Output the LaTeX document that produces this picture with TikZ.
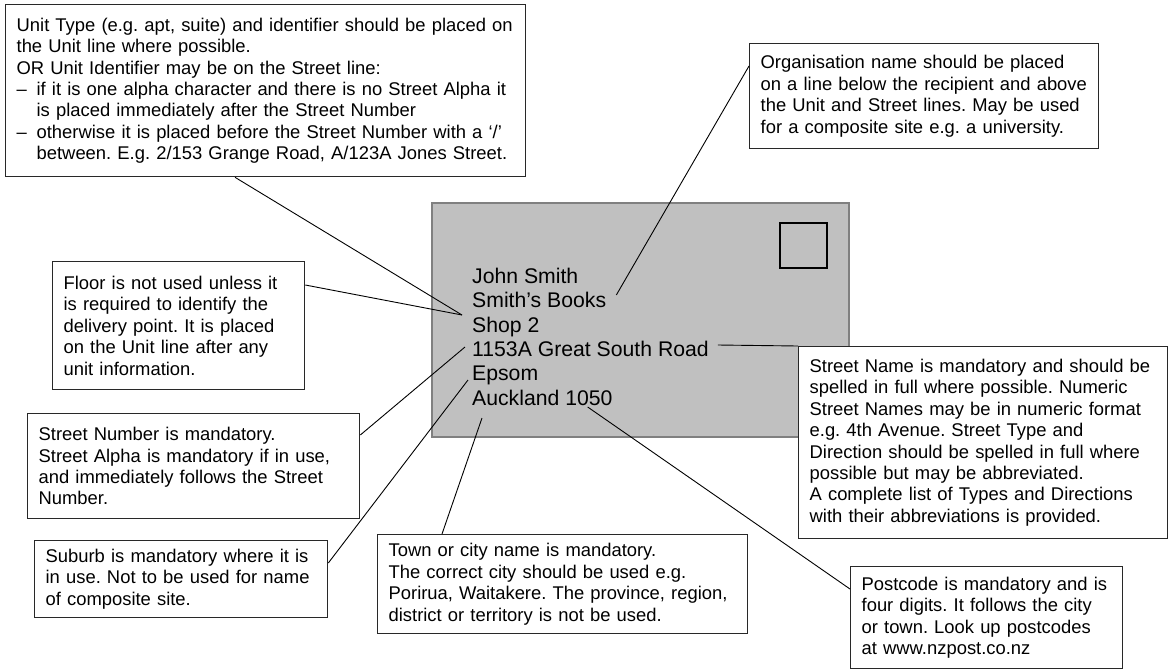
\documentclass[tikz,border=0pt]{standalone}
\usepackage{fontspec}
\setmainfont{Liberation Sans}
\frenchspacing
\definecolor{envback}{RGB}{192,192,192}
\definecolor{envline}{RGB}{128,128,128}
\definecolor{boxline}{RGB}{40,40,40}
\newcommand{\dashitem}{\makebox[20pt][l]{–}}

\begin{document}
\begin{tikzpicture}[x=1pt,y=-1pt,
  note/.style={draw=boxline,line width=1.3pt,fill=white,anchor=north west,align=left,
    inner xsep=11pt,inner ysep=3pt,font=\fontsize{18.4}{21.4}\selectfont},
  addr/.style={anchor=base west,inner sep=0pt,font=\fontsize{21.2}{24.4}\selectfont},
  leader/.style={draw=black,line width=0.9pt}]
\useasboundingbox (0,0) rectangle (1170,670);

\draw[fill=envback,draw=envline,line width=1.8pt] (432,203) rectangle (849,437);
\node[draw=black,line width=1.8pt,minimum width=47pt,minimum height=45pt,anchor=north west,inner sep=0pt] (stamp) at (779,222) {};

\node[addr] (recip) at (472,283) {John Smith};
\node[addr] (company) at (472,307) {Smith’s Books};
\node[addr] (shop) at (472,332) {Shop 2};
\node[addr] (street) at (472,356) {1153A Great South Road};
\node[addr] (suburbln) at (472,380) {Epsom};
\node[addr] (city) at (472,405) {Auckland 1050};

\node[note,text width=498pt,minimum height=172pt] (unit) at (5,4)
{\mbox{Unit Type (e.g. apt, suite) and identifier should be placed on}\\
the Unit line where possible.\\
OR Unit Identifier may be on the Street line:\\
\dashitem if it is one alpha character and there is no Street Alpha it\\
\hspace*{20pt}is placed immediately after the Street Number\\
\dashitem otherwise it is placed before the Street Number with a ‘/’\\
\hspace*{20pt}between. E.g. 2/153 Grange Road, A/123A Jones Street.};

\node[note,text width=327pt,minimum height=105pt] (org) at (749,43)
{Organisation name should be placed\\
\mbox{on a line below the recipient and above}\\
the Unit and Street lines. May be used\\
for a composite site e.g. a university.};

\node[note,text width=230pt,minimum height=128pt] (floor) at (52,261)
{Floor is not used unless it\\
is required to identify the\\
delivery point. It is placed\\
on the Unit line after any\\
unit information.};

\node[note,text width=310pt,minimum height=105pt] (stnum) at (27,413)
{Street Number is mandatory.\\
Street Alpha is mandatory if in use,\\
and immediately follows the Street\\
Number.};

\node[note,text width=271pt,minimum height=77pt] (suburb) at (34,540)
{Suburb is mandatory where it is\\
in use. Not to be used for name\\
of composite site.};

\node[note,text width=348pt,minimum height=99pt] (town) at (377,534)
{Town or city name is mandatory.\\
The correct city should be used e.g.\\
Porirua, Waitakere. The province, region,\\
district or territory is not be used.};

\node[note,text width=347pt,minimum height=192pt] (stname) at (798,346)
{Street Name is mandatory and should be\\
spelled in full where possible. Numeric\\
Street Names may be in numeric format\\
e.g. 4th Avenue. Street Type and\\
Direction should be spelled in full where\\
possible but may be abbreviated.\\
A complete list of Types and Directions\\
with their abbreviations is provided.};

\node[note,text width=250pt,minimum height=102pt] (pcode) at (850,566)
{Postcode is mandatory and is\\
four digits. It follows the city\\
or town. Look up postcodes\\
at www.nzpost.co.nz};

\draw[leader] ([xshift=230pt]unit.south west) -- ([xshift=-10pt,yshift=17pt]shop.base west);
\draw[leader] ([yshift=-24pt]floor.north east) -- ([xshift=-10pt,yshift=17pt]shop.base west);
\draw[leader] ([yshift=-22pt]stnum.north east) -- ([xshift=-7pt,yshift=9pt]street.base west);
\draw[leader] ([yshift=-23pt]suburb.north east) -- ([xshift=-4pt]suburbln.base west);
\draw[leader] ([xshift=65pt]town.north west) -- ([xshift=10pt,yshift=-13pt]city.base west);
\draw[leader] ([yshift=-23pt]org.north west) -- ([xshift=10pt,yshift=12pt]company.base east);
\draw[leader] ([xshift=9pt,yshift=11pt]street.base east) -- (stname.north west);
\draw[leader] ([xshift=-25pt,yshift=-2pt]city.base east) -- ([yshift=-23pt]pcode.north west);
\end{tikzpicture}
\end{document}
